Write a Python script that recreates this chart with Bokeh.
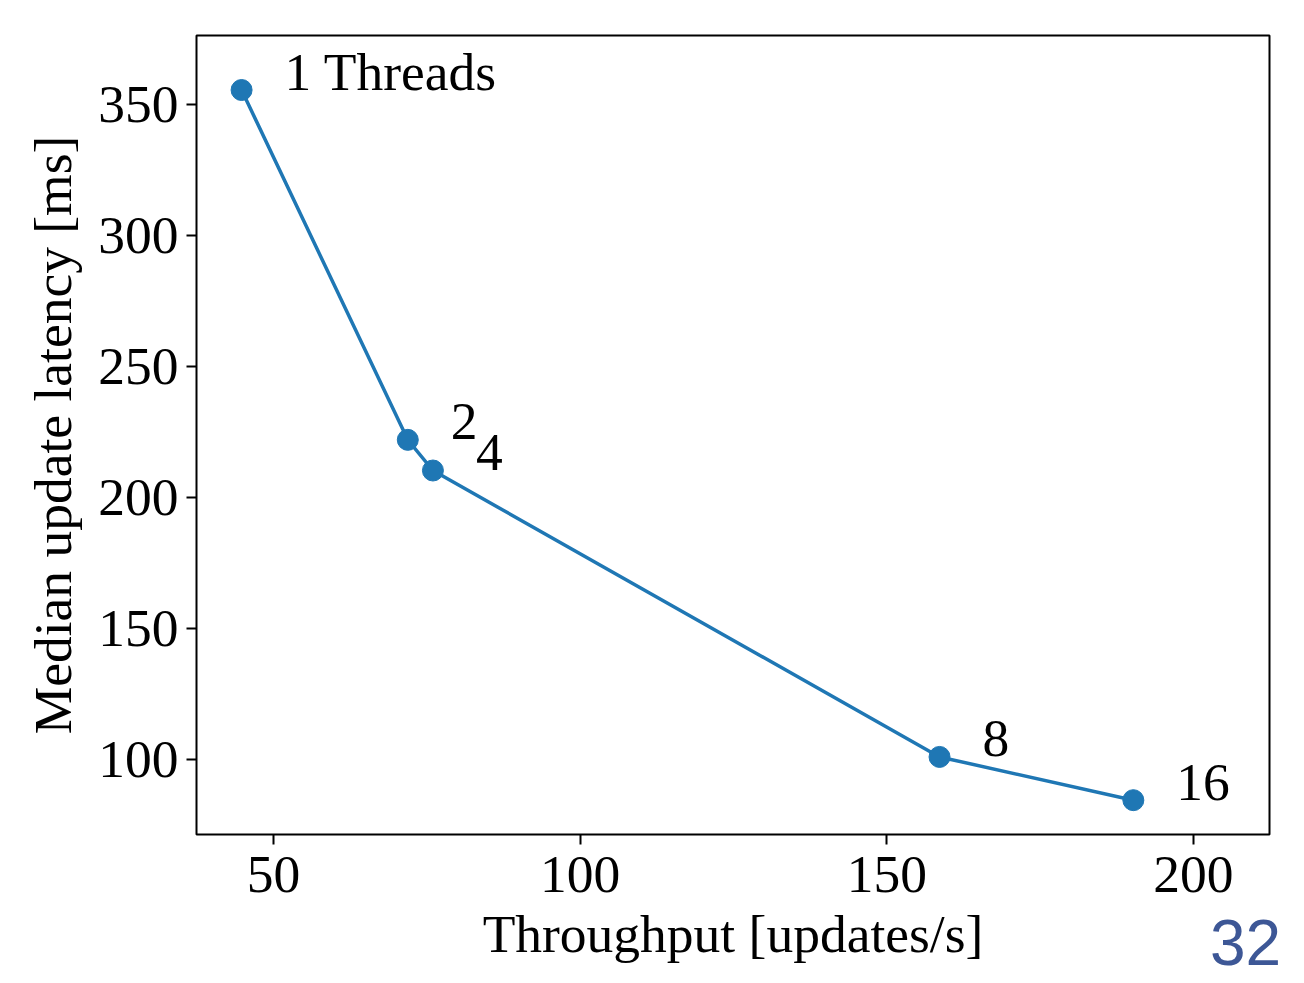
from bokeh.plotting import figure
from bokeh.models import ColumnDataSource, Range1d, FixedTicker, LinearAxis
from bokeh.core.properties import value
from bokeh.embed import file_html
from bokeh.resources import INLINE

threads = ["1  Threads", "2", "4", "8", "16"]
throughput = [44.8, 71.9, 76.0, 158.6, 190.2]
latency = [355.5, 222.0, 210.3, 101.0, 84.5]
x_ticks = [50, 100, 150, 200]
y_ticks = [100, 150, 200, 250, 300, 350]
page_number = "32"
page_number_x = 208.5

FONT = "Liberation Serif"
BLUE = "#1f77b4"
FS = "53.5px"

src = ColumnDataSource(dict(x=throughput, y=latency, t=threads))

p = figure(width=1304, height=983, output_backend="svg", toolbar_location=None,
           x_range=Range1d(37.45, 212.4), y_range=Range1d(71.4, 376.3),
           min_border_left=196, min_border_right=35, min_border_top=35, min_border_bottom=149)
p.outline_line_color = "black"
p.outline_line_width = 2
p.grid.visible = False
p.background_fill_color = "white"
p.border_fill_color = "white"

p.line("x", "y", source=src, line_color=BLUE, line_width=3.5)
p.scatter("x", "y", source=src, size=21, fill_color=BLUE, line_color=BLUE)
p.text("x", "y", text="t", source=src, x_offset=43, y_offset=-18,
       text_font=value(FONT), text_font_size=FS, text_baseline="alphabetic",
       text_align="left", text_color="black")

for ax in (p.xaxis, p.yaxis):
    ax.axis_line_color = None
    ax.major_tick_line_color = "black"
    ax.major_tick_line_width = 2
    ax.major_tick_out = 10
    ax.major_tick_in = 0
    ax.minor_tick_line_color = None
    ax.major_label_text_font = FONT
    ax.major_label_text_font_size = FS
    ax.major_label_text_color = "black"
    ax.axis_label_text_font = FONT
    ax.axis_label_text_font_size = FS
    ax.axis_label_text_font_style = "normal"
    ax.axis_label_text_color = "black"

p.xaxis.ticker = FixedTicker(ticks=x_ticks)
p.yaxis.ticker = FixedTicker(ticks=y_ticks)
p.xaxis.axis_label = "Throughput [updates/s]"
p.yaxis.axis_label = "Median update latency [ms]"
p.xaxis.major_label_standoff = 12
p.yaxis.major_label_standoff = 8
p.xaxis.axis_label_standoff = 9
p.yaxis.axis_label_standoff = 12

# slide page number, drawn as the single label of an extra bare axis
pn = LinearAxis(ticker=FixedTicker(ticks=[page_number_x]),
                major_label_overrides={page_number_x: page_number})
pn.axis_line_color = None
pn.major_tick_line_color = None
pn.minor_tick_line_color = None
pn.major_tick_out = 0
pn.major_tick_in = 0
pn.major_label_standoff = -47
pn.major_label_text_font = "Liberation Sans"
pn.major_label_text_font_size = "64px"
pn.major_label_text_color = "#3d5796"
p.add_layout(pn, "below")

open("out.html", "w").write(file_html(p, INLINE))
